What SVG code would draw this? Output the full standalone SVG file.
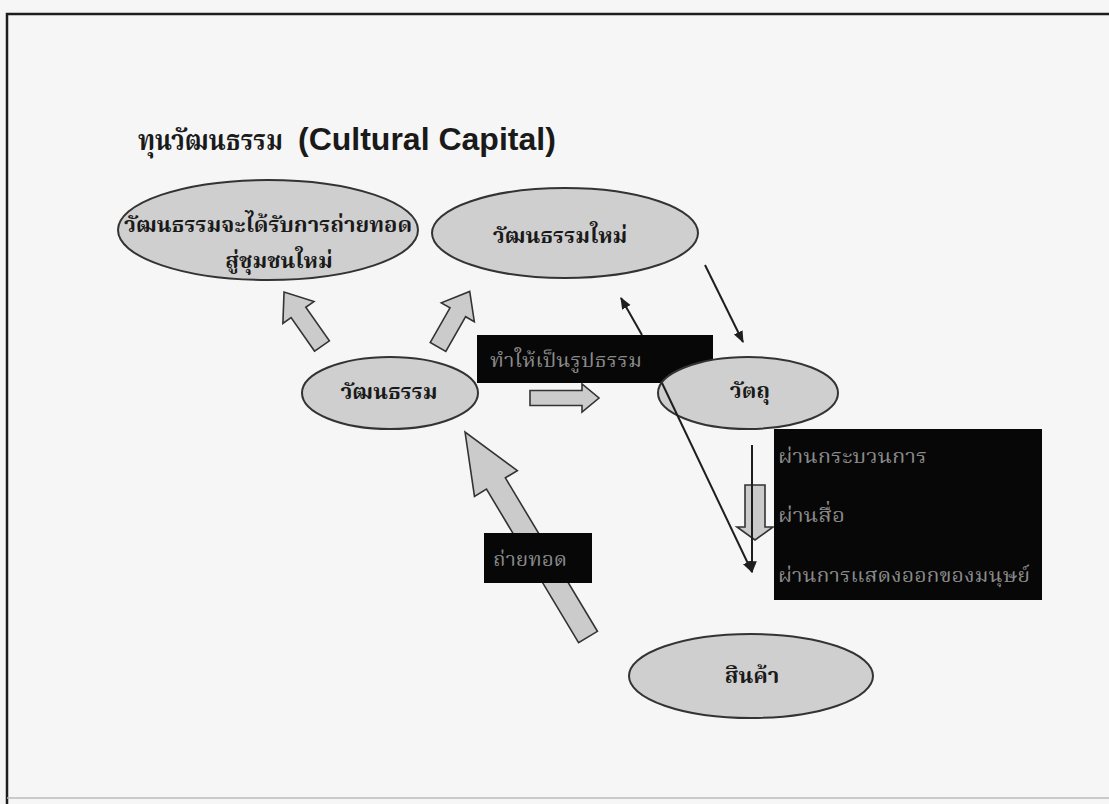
<svg xmlns="http://www.w3.org/2000/svg" width="1109" height="804" viewBox="0 0 1109 804">
<defs>
<style>
.bg{fill:#f6f6f6}
.frame{stroke:#1e1e1e;stroke-width:2.5;fill:none}
.ell{fill:#cfcfcf;stroke:#333;stroke-width:2}
.blk{fill:#cbcbcb;stroke:#333;stroke-width:1.6;stroke-linejoin:miter}
.box{fill:#070707}
.lbl{font-family:"Liberation Serif","Noto Serif Thai","Noto Sans Thai",serif;font-weight:bold;font-size:22px;fill:#1a1a1a;text-anchor:middle}
.btx{font-family:"Liberation Serif","Noto Serif Thai","Noto Sans Thai",serif;font-size:20px;fill:#8a8a8a}
.ln{stroke:#1e1e1e;stroke-width:2;fill:none}
</style>
<marker id="ah" viewBox="0 0 10 10" refX="9" refY="5" markerWidth="6" markerHeight="6" markerUnits="strokeWidth" orient="auto">
<path d="M0,1 L10,5 L0,9 Z" fill="#1e1e1e"/>
</marker>
</defs>
<rect class="bg" x="0" y="0" width="1109" height="804"/>
<g id="frame">
<path class="frame" d="M7,804 L7,14 L1109,14"/>
<path d="M7,798 L1109,798" stroke="#bbbbbb" stroke-width="1.5"/>
</g>
<g id="title">
<text x="138" y="150" font-family="Liberation Serif,'Noto Serif Thai','Noto Sans Thai',serif" font-weight="bold" font-size="28" fill="#1a1a1a" textLength="145" lengthAdjust="spacingAndGlyphs">ทุนวัฒนธรรม</text>
<text x="298" y="150" font-family="Liberation Sans,Arial,sans-serif" font-weight="bold" font-size="32" fill="#1a1a1a">(Cultural Capital)</text>
</g>
<g id="block-arrows">
<path id="arrow-left-up" class="blk" transform="translate(322,346) rotate(-125.1)" d="M0,-9 L41,-9 L41,-19 L66,0 L41,19 L41,9 L0,9 Z"/>
<path id="arrow-right-up" class="blk" transform="translate(438,347) rotate(-60.3)" d="M0,-9 L40,-9 L40,-19 L64,0 L40,19 L40,9 L0,9 Z"/>
<path id="arrow-right" class="blk" d="M530,390.5 L582,390.5 L582,384 L599,398 L582,412 L582,405.5 L530,405.5 Z"/>
<path id="arrow-big" class="blk" transform="translate(588,637) rotate(-120.96)" d="M0,-11 L179,-11 L179,-25 L239,0 L179,25 L179,11 L0,11 Z"/>
<path id="arrow-down" class="blk" d="M745,485 L765,485 L765,527 L773,527 L755,540 L737,527 L745,527 Z"/>
</g>
<g id="node-transmit-new">
<ellipse class="ell" cx="268" cy="230" rx="150" ry="50"/>
<text class="lbl" x="268" y="232">วัฒนธรรมจะได้รับการถ่ายทอด</text>
<text class="lbl" x="279" y="268">สู่ชุมชนใหม่</text>
</g>
<g id="node-new-culture">
<ellipse class="ell" cx="565" cy="233" rx="133" ry="45"/>
<text class="lbl" x="560" y="243">วัฒนธรรมใหม่</text>
</g>
<g id="node-culture">
<ellipse class="ell" cx="390" cy="393" rx="88" ry="36"/>
<text class="lbl" x="389" y="399">วัฒนธรรม</text>
</g>
<g id="box-concrete">
<rect class="box" x="477" y="335" width="236" height="48"/>
<text class="btx" x="490" y="367" textLength="152" lengthAdjust="spacingAndGlyphs">ทำให้เป็นรูปธรรม</text>
</g>
<g id="node-object">
<ellipse class="ell" cx="748" cy="393" rx="90" ry="36"/>
<text class="lbl" x="750" y="398">วัตถุ</text>
</g>
<g id="node-product">
<ellipse class="ell" cx="751" cy="676" rx="122" ry="42"/>
<text class="lbl" x="752" y="683">สินค้า</text>
</g>
<g id="box-transmit">
<rect class="box" x="484" y="533" width="108" height="50"/>
<text class="btx" x="493" y="566" textLength="74" lengthAdjust="spacingAndGlyphs">ถ่ายทอด</text>
</g>
<g id="box-channels">
<rect class="box" x="774" y="429" width="268" height="171"/>
<text class="btx" x="778" y="463" textLength="149" lengthAdjust="spacingAndGlyphs">ผ่านกระบวนการ</text>
<text class="btx" x="778" y="522" textLength="67" lengthAdjust="spacingAndGlyphs">ผ่านสื่อ</text>
<text class="btx" x="778" y="582" textLength="252" lengthAdjust="spacingAndGlyphs">ผ่านการแสดงออกของมนุษย์</text>
</g>
<g id="connectors">
<line class="ln" x1="642" y1="335" x2="621" y2="298" marker-end="url(#ah)"/>
<line class="ln" x1="705" y1="265" x2="743" y2="342" marker-end="url(#ah)"/>
<line class="ln" x1="662" y1="383" x2="752" y2="572" marker-end="url(#ah)"/>
<line class="ln" x1="752" y1="445" x2="752" y2="572" marker-end="url(#ah)"/>
</g>
</svg>
